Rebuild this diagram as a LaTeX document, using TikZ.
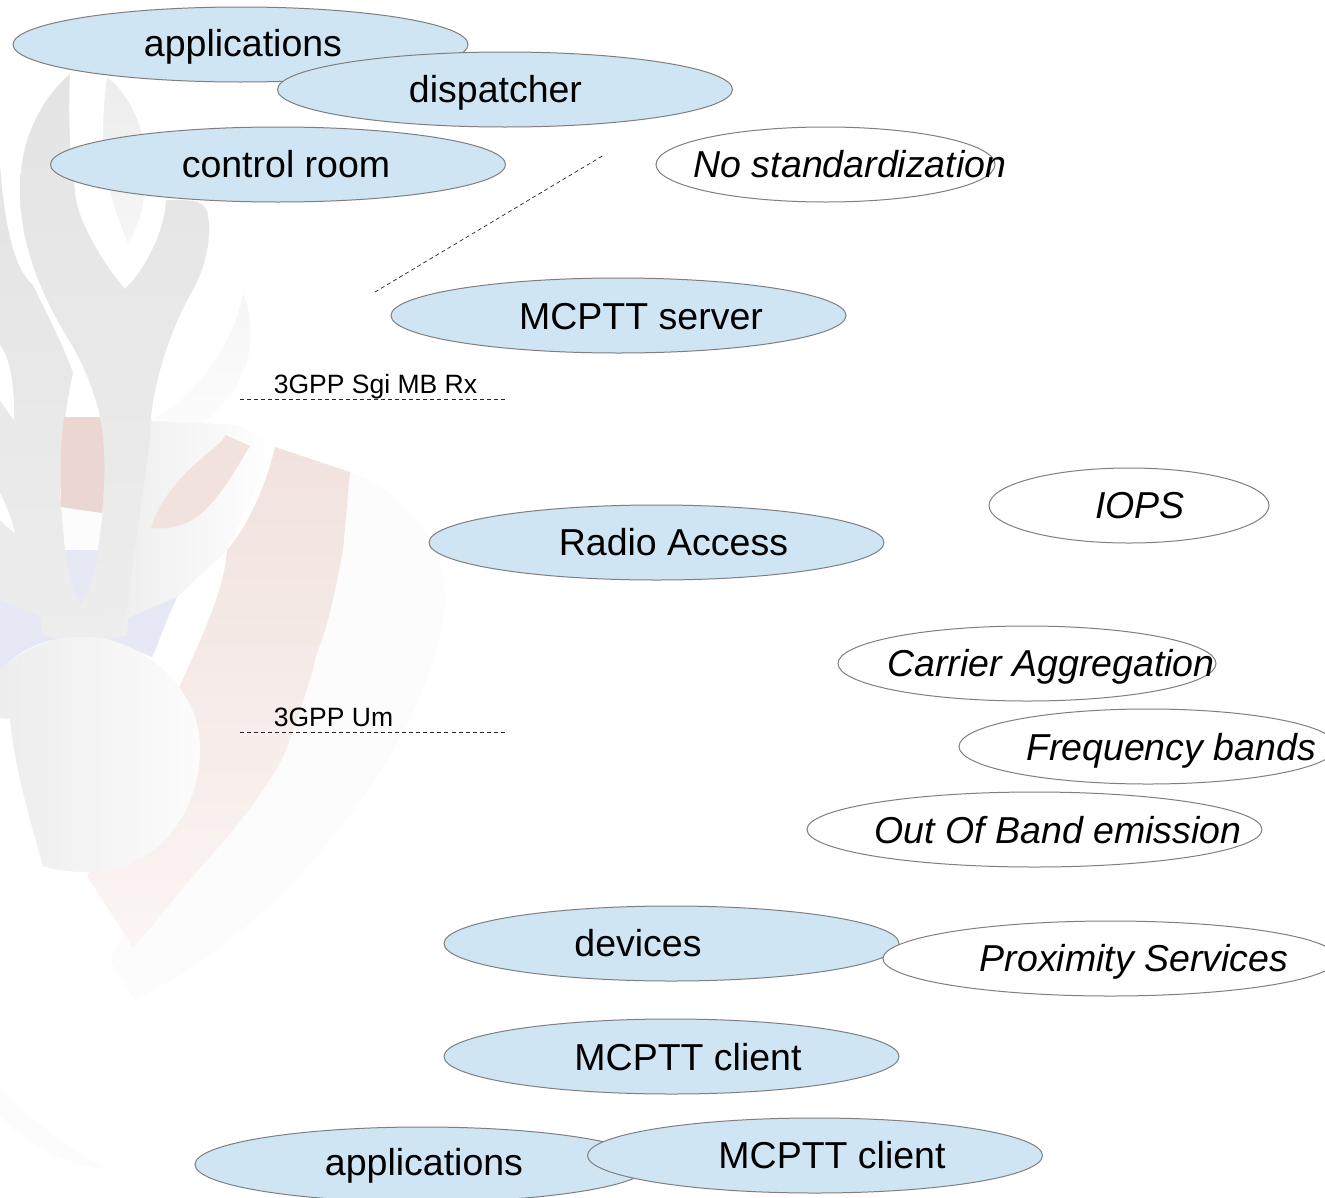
\documentclass[tikz,border=0pt]{standalone}
\usepackage{fontspec}
\setmainfont{Liberation Sans}
\usetikzlibrary{shapes.geometric}
\tikzset{
  ell/.style={ellipse,draw=ellline,line width=1pt,inner sep=0pt,minimum width=#1,minimum height=75pt},
  ell/.default=455pt,
  blue/.style={fill=ellfill},
  open/.style={fill=white},
  big/.style={anchor=base,inner sep=0pt,font=\fontsize{37.5}{45}\selectfont},
  bigit/.style={big,font=\fontsize{37.5}{45}\selectfont\itshape},
  small/.style={anchor=base,inner sep=0pt,font=\fontsize{26.5}{32}\selectfont},
  dashline/.style={line width=0.7pt,dash pattern=on 4pt off 3.05pt,draw=black!85},
}
\definecolor{ellline}{HTML}{7F7F7F}
\definecolor{ellfill}{HTML}{CFE5F3}
\definecolor{wg1}{HTML}{E4E4E4}
\definecolor{wg2}{HTML}{EDEDED}
\definecolor{wg3}{HTML}{F6F6F6}
\definecolor{wg4}{HTML}{FCFCFC}
\definecolor{sal1}{HTML}{EBD6D1}
\definecolor{sal2}{HTML}{F1E2DE}
\definecolor{sal3}{HTML}{FBF5F3}
\definecolor{wblue}{HTML}{E6E9F5}
\begin{document}
\begin{tikzpicture}[x=1pt,y=-1pt]
\clip (0,0) rectangle (1325,1197);
\fill[white] (0,0) rectangle (1325,1197);
% --- watermark ---
\fill[wg4] (350,472) .. controls (400,490) and (445,540) .. (445,600) .. controls (440,720) and (300,920) .. (135,1000) -- (110,960) -- cycle;
\fill[wg4] (0,1085) .. controls (30,1120) and (70,1150) .. (110,1170) .. controls (60,1165) and (20,1140) .. (0,1115) -- cycle;
% faint right flame
\shade[top color=wg3,bottom color=wg4] (243,293) .. controls (258,330) and (255,385) .. (200,425) .. controls (190,430) and (160,420) .. (149,422) .. controls (200,395) and (235,340) .. cycle;
% lower field right of the body, fading out
\shade[left color=wg2,right color=white] (130,420) -- (240,425) -- (277,447) -- (227,550) -- (177,597) -- (152,657) -- (107,640) -- cycle;
% left flame and field
\shade[top color=wg1,bottom color=wg2] (0,165) .. controls (5,230) and (15,270) .. (33,285) .. controls (50,320) and (65,350) .. (73,373) .. controls (68,395) and (60,440) .. (60,500) -- (105,500) -- (105,640) -- (0,640) -- cycle;
% central body
\shade[top color=wg1,bottom color=wg2] (70,74) .. controls (40,100) and (20,140) .. (20,190) .. controls (20,250) and (45,300) .. (67,337) .. controls (85,365) and (97,400) .. (100,417) -- (105,560) -- (105,640) -- (125,620) -- (150,440) .. controls (149,400) and (165,340) .. (190,295) .. controls (205,270) and (212,240) .. (208,215) .. controls (205,200) and (195,200) .. (166,200) .. controls (165,230) and (145,270) .. (125,289) .. controls (100,260) and (75,215) .. (75,190) .. controls (70,160) and (68,120) .. cycle;
% second blade
\shade[top color=wg2,bottom color=wg3] (107,77) .. controls (125,90) and (145,125) .. (146,160) .. controls (146,200) and (140,225) .. (128,243) .. controls (112,205) and (103,170) .. (103,140) .. controls (103,120) and (104,100) .. cycle;
% white slivers and gap under the salmon piece
\fill[white] (0,345) .. controls (8,355) and (15,380) .. (14,420) .. controls (8,412) and (3,405) .. (0,400) -- cycle;
\fill[white] (0,493) .. controls (6,505) and (12,520) .. (15,533) .. controls (10,530) and (4,524) .. (0,520) -- cycle;
\fill[wg4] (61,505) -- (103,511) -- (98,550) -- (65,550) -- cycle;
% salmon
\fill[sal1] (64,417) -- (100,417) .. controls (106,450) and (105,480) .. (102,513) -- (61,507) .. controls (60,480) and (60,450) .. cycle;
\fill[sal2] (226,435) -- (250,446) .. controls (235,470) and (225,490) .. (205,510) .. controls (190,525) and (170,530) .. (151,528) .. controls (155,510) and (175,480) .. (200,460) .. controls (210,450) and (220,445) .. cycle;
\shade[top color=sal2,bottom color=sal3] (275,447) -- (350,472) -- (343,550) .. controls (335,590) and (330,620) .. (317,653) .. controls (305,700) and (290,740) .. (283,757) .. controls (260,800) and (225,840) .. (207,860) .. controls (180,890) and (150,930) .. (133,947) -- (87,876) -- (180,686) .. controls (200,640) and (225,590) .. (227,550) .. controls (245,530) and (265,490) .. cycle;
% blue
\fill[wblue] (65,550) -- (98,550) .. controls (95,575) and (88,590) .. (81,604) .. controls (72,590) and (68,570) .. cycle;
\fill[wblue] (0,600) -- (40,616) -- (42,635) -- (57,639) .. controls (30,645) and (15,655) .. (0,670) -- cycle;
\fill[wblue] (177,597) .. controls (165,620) and (160,640) .. (152,657) .. controls (140,650) and (125,645) .. (107,639) -- (127,635) -- (128,618) -- cycle;
% head
\shade[left color=wg2,right color=wg4] (0,670) .. controls (15,655) and (35,645) .. (57,639) .. controls (70,636) and (95,636) .. (107,639) .. controls (150,650) and (200,690) .. (200,748) .. controls (200,810) and (160,872) .. (87,872) .. controls (70,872) and (55,870) .. (43,866) .. controls (30,820) and (15,770) .. (10,719) -- (0,718) -- cycle;
% --- ellipses, back to front ---
\node[ell,blue] (app1) at (240.5,44.5) {};
\node[ell,blue] (disp) at (505,89.5) {};
\node[ell,blue] (ctrl) at (278,164.5) {};
\node[ell=339pt,open] (nostd) at (825.5,164.5) {};
\node[ell,blue] (srv) at (618.5,315.5) {};
\node[ell,blue] (ran) at (656.5,542.5) {};
\node[ell=280pt,open] (iops) at (1129,505.5) {};
\node[ell=378pt,open] (ca) at (1027,663.5) {};
\node[ell=378pt,open] (fb) at (1148,746.5) {};
\node[ell,open] (oob) at (1034.5,829.5) {};
\node[ell,blue] (dev) at (671.5,943.5) {};
\node[ell,open] (prox) at (1110.5,958.5) {};
\node[ell,blue] (cli1) at (671.5,1056.5) {};
\node[ell,blue] (app2) at (422.5,1164.5) {};
\node[ell,blue] (cli2) at (815,1155.5) {};
% --- texts ---
\node[big] (t1) at (243,56) {applications};
\node[big] (t2) at (495.5,102) {dispatcher};
\node[big] (t3) at (286,177) {control room};
\node[bigit] (t4) at (850,177) {No standardization};
\node[big] (t5) at (641,329) {MCPTT server};
\node[big] (t6) at (673.5,555) {Radio Access};
\node[bigit] (t7) at (1140,518) {IOPS};
\node[bigit] (t8) at (1051,676) {Carrier Aggregation};
\node[bigit] (t9) at (1171,760) {Frequency bands};
\node[bigit] (t10) at (1058,843) {Out Of Band emission};
\node[big] (t11) at (638,956) {devices};
\node[bigit] (t12) at (1134,971) {Proximity Services};
\node[big] (t13) at (688,1070) {MCPTT client};
\node[big] (t14) at (424,1175) {applications};
\node[big] (t15) at (832,1168) {MCPTT client};
\node[small] (s1) at (375.5,393) {3GPP Sgi MB Rx};
\node[small] (s2) at (333.5,726) {3GPP Um};
% --- dashed lines ---
\coordinate (d1a) at (375,292);
\coordinate (d1b) at (604,155);
\coordinate (d2a) at (240,399);
\coordinate (d2b) at (505,399);
\coordinate (d3a) at (240,732);
\coordinate (d3b) at (505,732);
\draw[dashline] (d1a) -- (d1b);
\draw[dashline] (d2a) -- (d2b);
\draw[dashline] (d3a) -- (d3b);
\end{tikzpicture}
\end{document}
